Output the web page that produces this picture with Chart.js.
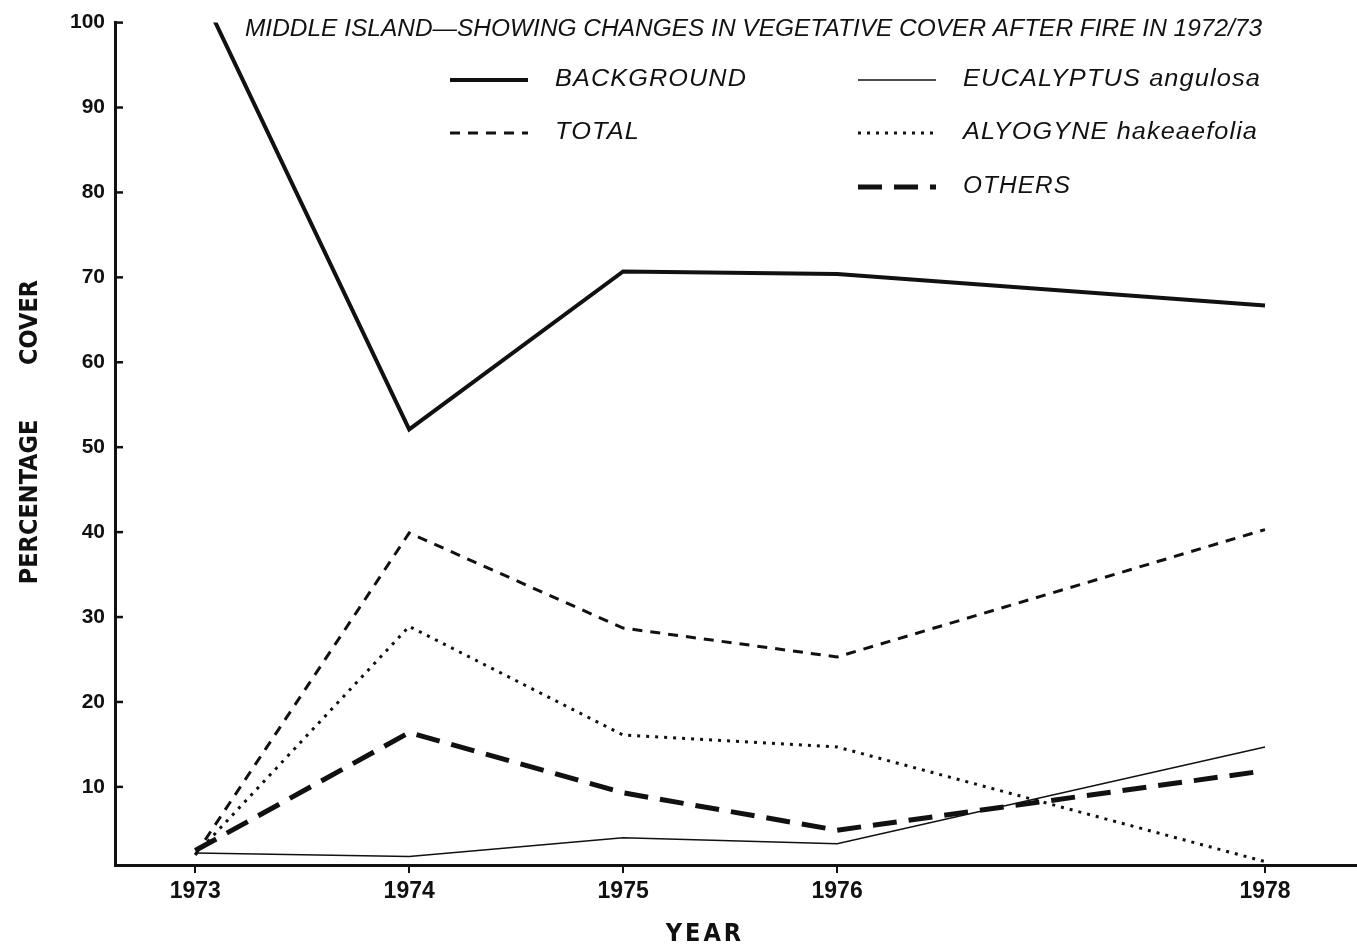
<!DOCTYPE html>
<html>
<head>
<meta charset="utf-8">
<script src="https://cdn.jsdelivr.net/npm/chart.js@4"></script>
<style>
  html, body { margin: 0; padding: 0; background: #fff; }
  #chart { display: block; }
</style>
</head>
<body>
<canvas id="chart" width="1357" height="946"></canvas>
<script>
// Data
const years = [1973, 1974, 1975, 1976, 1978];
const yTicks = [10, 20, 30, 40, 50, 60, 70, 80, 90, 100];
const background = [105, 52.1, 70.7, 70.4, 66.7];
const eucalyptus = [2.2, 1.8, 4.0, 3.3, 14.7];
const total = [2.0, 39.9, 28.7, 25.3, 40.3];
const alyogyne = [2.0, 28.9, 16.1, 14.7, 1.2];
const others = [2.5, 16.4, 9.3, 4.9, 11.9];
const titleText = "MIDDLE ISLAND\u2014SHOWING CHANGES IN VEGETATIVE COVER AFTER FIRE IN 1972/73";

const ink = "#111";
const sans = "'Liberation Sans', Arial, Helvetica, sans-serif";
const narrow = "'DejaVu Sans Condensed', 'Liberation Sans Narrow', 'Liberation Sans', sans-serif";

const pts = arr => arr.map((v, i) => ({ x: years[i], y: v }));

// Legend drawn inside the plot, two columns like the original
const legendSpots = [
    { x: 450, y: 80, w: 192 },  // background
    { x: 858, y: 80, w: 298 },  // eucalyptus
    { x: 450, y: 133, w: 85 },  // total
    { x: 858, y: 133, w: 295 }, // alyogyne
    { x: 858, y: 187, w: 108 }, // others
];

// draw text squeezed/stretched to a given width
function fitText(ctx, text, x, y, w) {
    const m = ctx.measureText(text).width;
    ctx.save();
    ctx.translate(x, y);
    ctx.scale(w / m, 1);
    ctx.fillText(text, 0, 0);
    ctx.restore();
}

const figureText = {
    id: "figureText",
    afterDraw(chart) {
        const ctx = chart.ctx;
        ctx.save();
        ctx.fillStyle = ink;
        ctx.textBaseline = "middle";
        ctx.font = "italic 23px " + sans;
        fitText(ctx, titleText, 245, 30, 1017);

        // legend
        chart.data.datasets.forEach((ds, i) => {
            const p = legendSpots[i];
            ctx.save();
            ctx.strokeStyle = ds.borderColor;
            ctx.lineWidth = ds.borderWidth;
            ctx.setLineDash(ds.borderDash || []);
            ctx.beginPath();
            ctx.moveTo(p.x, p.y);
            ctx.lineTo(p.x + 78, p.y);
            ctx.stroke();
            ctx.restore();
            ctx.font = "italic 23px " + sans;
            ctx.letterSpacing = "1px";
            fitText(ctx, ds.label, p.x + 105, p.y, p.w);
            ctx.letterSpacing = "0px";
        });

        // x axis title, letter-spaced
        ctx.font = "bold 25px " + narrow;
        ctx.letterSpacing = "3px";
        ctx.textAlign = "center";
        ctx.fillText("YEAR", 705, 934);
        ctx.restore();

        // inward tick marks on the y axis
        const ys = chart.scales.y;
        ctx.save();
        ctx.strokeStyle = ink;
        ctx.lineWidth = 2.5;
        ys.ticks.forEach(t => {
            const y = ys.getPixelForValue(t.value);
            ctx.beginPath();
            ctx.moveTo(ys.right, y);
            ctx.lineTo(ys.right + 8, y);
            ctx.stroke();
        });
        ctx.restore();
    }
};

new Chart(document.getElementById("chart").getContext("2d"), {
    type: "line",
    data: {
        datasets: [
            { label: "BACKGROUND", data: pts(background), borderColor: ink, borderWidth: 4, borderDash: [] },
            { label: "EUCALYPTUS angulosa", data: pts(eucalyptus), borderColor: ink, borderWidth: 1.5, borderDash: [] },
            { label: "TOTAL", data: pts(total), borderColor: ink, borderWidth: 3, borderDash: [10, 8] },
            { label: "ALYOGYNE hakeaefolia", data: pts(alyogyne), borderColor: ink, borderWidth: 3, borderDash: [3, 6] },
            { label: "OTHERS", data: pts(others), borderColor: ink, borderWidth: 5, borderDash: [24, 12] },
        ],
    },
    options: {
        responsive: false,
        animation: false,
        layout: { padding: { top: 22, right: 0, left: 0, bottom: 0 } },
        elements: { point: { radius: 0 }, line: { tension: 0, borderCapStyle: "butt", borderJoinStyle: "miter" } },
        plugins: { legend: { display: false }, tooltip: { enabled: false } },
        scales: {
            x: {
                type: "linear",
                min: 1972.625,
                max: 1978.43,
                afterBuildTicks: s => { s.ticks = years.map(v => ({ value: v })); },
                afterFit: s => { s.height = 81; },
                grid: { drawOnChartArea: false, drawTicks: true, tickLength: 8, color: ink, lineWidth: 2 },
                border: { display: true, color: ink, width: 3 },
                ticks: { font: { family: sans, size: 23, weight: "bold" }, color: ink, padding: 5, maxRotation: 0, autoSkip: false, callback: v => String(v) },
            },
            y: {
                min: 0.8,
                max: 100,
                afterBuildTicks: s => { s.ticks = yTicks.map(v => ({ value: v })); },
                afterFit: s => { s.width = 115; },
                grid: { display: false, drawTicks: false },
                border: { display: true, color: ink, width: 3 },
                ticks: { font: { family: sans, size: 21, weight: "bold" }, color: ink, padding: 10 },
                title: { display: true, text: "   PERCENTAGE       COVER", color: ink, font: { family: narrow, size: 25, weight: "bold" }, padding: { top: 15, bottom: 0 } },
            },
        },
    },
    plugins: [figureText],
});
</script>
</body>
</html>
